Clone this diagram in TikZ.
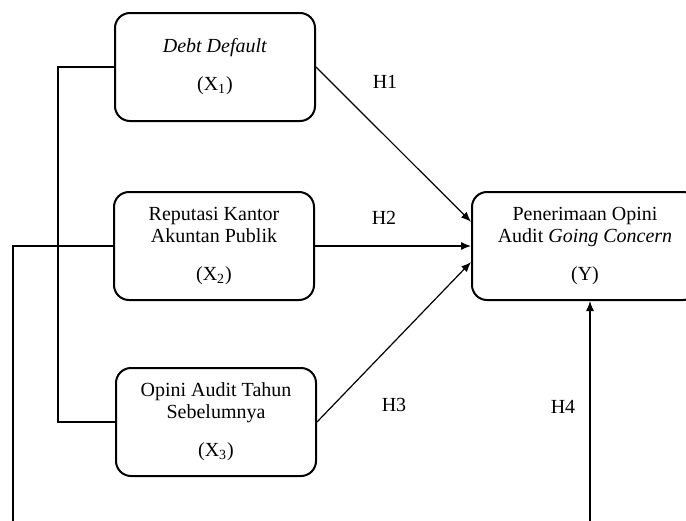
\documentclass[tikz,border=0pt]{standalone}
\usepackage{fontspec}
\setmainfont{Liberation Serif}
\usetikzlibrary{arrows.meta}

\begin{document}
\begin{tikzpicture}[x=0.5pt,y=-0.5pt,
  varbox/.style={draw, line width=1pt, rounded corners=7.5pt, align=center, inner sep=0pt,
    minimum width=100pt, minimum height=54pt, font=\fontsize{10}{11}\selectfont},
  hyp/.style={font=\fontsize{10}{11}\selectfont},
  link/.style={line width=0.6pt},
  arr/.style={link, -{Latex[length=5pt,width=4pt]}}]
\useasboundingbox (0,0) rectangle (686,520);

\node[varbox] (x1) at (215,67) {\textit{Debt Default}\\[8pt](X\textsubscript{1})};
\node[varbox] (x2) at (214,246) {Reputasi Kantor\\Akuntan Publik\\[8pt](X\textsubscript{2})};
\node[varbox] (x3) at (216,422) {Opini Audit Tahun\\Sebelumnya\\[8pt](X\textsubscript{3})};
\node[varbox, minimum width=113pt] (y) at (585,246) {Penerimaan Opini\\Audit \textit{Going Concern}\\[8pt](Y)};

\node[hyp] (h1) at (385,82) {H1};
\node[hyp] (h2) at (384,218) {H2};
\node[hyp] (h3) at (394,405) {H3};
\node[hyp] (h4) at (563,407) {H4};

\coordinate (lowL) at (13,535);
\coordinate (lowR) at (590,535);

% bracket joining X1 and X3
\draw[link] (x1.west) -- ++(-56,0) |- (x3.west);

\draw[arr] (x1.east) -- (y.168);
\draw[arr] (x2.east) -- (y.west);
\draw[arr] (x3.east) -- (y.188);
\draw[arr] (x2.west) -| (lowL) -- (lowR) -- (lowR |- y.south);
\end{tikzpicture}
\end{document}
